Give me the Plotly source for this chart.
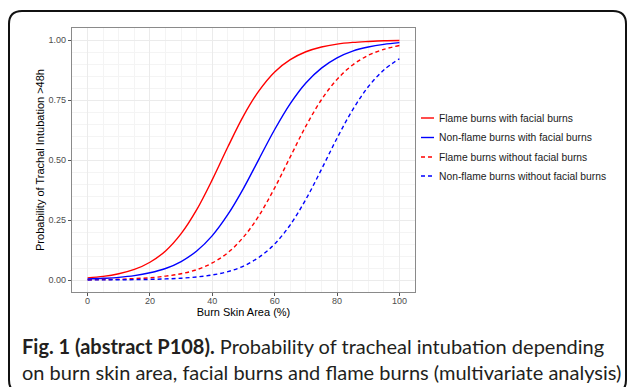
import plotly.graph_objects as go

# ---- data ----
burn_area = [0, 5, 10, 15, 20, 25, 30, 35, 40, 45, 50, 55, 60, 65, 70, 75, 80, 85, 90, 95, 100]

flame_facial = [0.009, 0.015, 0.026, 0.044, 0.074, 0.121, 0.193, 0.293, 0.418, 0.555, 0.684,
                0.789, 0.867, 0.918, 0.951, 0.971, 0.983, 0.990, 0.994, 0.997, 0.998]
nonflame_facial = [0.004, 0.007, 0.011, 0.018, 0.030, 0.048, 0.077, 0.121, 0.185, 0.273, 0.382,
                   0.505, 0.627, 0.735, 0.821, 0.883, 0.926, 0.954, 0.971, 0.982, 0.989]
flame_nofacial = [0.001, 0.002, 0.003, 0.006, 0.009, 0.016, 0.026, 0.043, 0.071, 0.114, 0.179,
                  0.269, 0.384, 0.513, 0.641, 0.751, 0.836, 0.896, 0.936, 0.961, 0.977]
nonflame_nofacial = [0.0003, 0.0006, 0.0009, 0.0016, 0.0026, 0.0045, 0.0075, 0.0127, 0.021, 0.035,
                     0.058, 0.095, 0.150, 0.230, 0.336, 0.461, 0.591, 0.709, 0.805, 0.875, 0.922]

series_names = ["Flame burns with facial burns", "Non-flame burns with facial burns",
                "Flame burns without facial burns", "Non-flame burns without facial burns"]
series_values = [flame_facial, nonflame_facial, flame_nofacial, nonflame_nofacial]
series_colors = ["#FF0000", "#0000FF", "#FF0000", "#0000FF"]
series_dash = ["solid", "solid", "4px,3px", "4px,3px"]

x_ticks = [0, 20, 40, 60, 80, 100]
y_ticks = [0.0, 0.25, 0.5, 0.75, 1.0]
y_ticklabels = ["0.00", "0.25", "0.50", "0.75", "1.00"]

x_title = "Burn Skin Area (%)"
y_title = "Probability of Trachal Intubation >48h"
caption = ("<b>Fig. 1 (abstract P108).</b> Probability of tracheal intubation depending<br>"
           "on burn skin area, facial burns and flame burns (multivariate analysis)")

# ---- layout geometry ----
W, H = 627, 387
ML, MR, MT, MB = 72, 212, 28, 95
PW, PH = W - ML - MR, H - MT - MB


def fx(px):
    return (px - ML) / PW


def fy(py):
    return (H - MB - py) / PH


fig = go.Figure()
for name, vals, col, dash in zip(series_names, series_values, series_colors, series_dash):
    fig.add_trace(go.Scatter(x=burn_area, y=vals, mode="lines", name=name,
                             line=dict(color=col, width=1.4, dash=dash, shape="spline"),
                             showlegend=False))

axis_common = dict(showgrid=True, gridcolor="#EBEBEB", gridwidth=1,
                   minor=dict(showgrid=True, gridcolor="#F4F4F4", gridwidth=0.6),
                   zeroline=False, showline=True, linecolor="#8A8A8A", linewidth=1.3, mirror=True,
                   ticks="outside", ticklen=3, tickcolor="#555555", tickwidth=1,
                   tickfont=dict(family="Liberation Sans, Arial", size=9, color="#4D4D4D"))

fig.update_xaxes(range=[-5, 105], tickvals=x_ticks, ticklabelstandoff=-3,
                 title=dict(text=x_title, standoff=3,
                            font=dict(family="Liberation Sans, Arial", size=11, color="#000000")),
                 **axis_common)
fig.update_yaxes(range=[-0.05, 1.05], tickvals=y_ticks, ticktext=y_ticklabels,
                 title=dict(text=y_title, standoff=1,
                            font=dict(family="Liberation Sans, Arial", size=11, color="#000000")),
                 **axis_common)

# ---- manual legend ----
shapes = []
annotations = []
legend_y = [118, 137.5, 157, 176]
for name, col, dash, ly in zip(series_names, series_colors, series_dash, legend_y):
    shapes.append(dict(type="line", xref="paper", yref="paper",
                       x0=fx(421), x1=fx(434), y0=fy(ly), y1=fy(ly),
                       line=dict(color=col, width=1.4, dash=dash)))
    annotations.append(dict(text=name, xref="paper", yref="paper", x=fx(437), y=fy(ly),
                            xanchor="left", yanchor="middle", showarrow=False,
                            font=dict(family="Liberation Sans, Arial", size=10.3, color="#1A1A1A")))

# ---- rounded outer frame ----
x0, y0, x1, y1, r = 9, 11, 626, 393, 13
path = (f"M{fx(x0 + r)},{fy(y0)} L{fx(x1 - r)},{fy(y0)} Q{fx(x1)},{fy(y0)} {fx(x1)},{fy(y0 + r)} "
        f"L{fx(x1)},{fy(y1 - r)} Q{fx(x1)},{fy(y1)} {fx(x1 - r)},{fy(y1)} "
        f"L{fx(x0 + r)},{fy(y1)} Q{fx(x0)},{fy(y1)} {fx(x0)},{fy(y1 - r)} "
        f"L{fx(x0)},{fy(y0 + r)} Q{fx(x0)},{fy(y0)} {fx(x0 + r)},{fy(y0)} Z")
shapes.append(dict(type="path", xref="paper", yref="paper", path=path,
                   line=dict(color="#111111", width=2)))

# ---- caption ----
annotations.append(dict(text=caption, xref="paper", yref="paper", x=fx(20), y=fy(332),
                        xanchor="left", yanchor="top", align="left", showarrow=False,
                        font=dict(family="Lato, Open Sans", size=20.0, color="#231F20")))

fig.update_layout(width=W, height=H, margin=dict(l=ML, r=MR, t=MT, b=MB),
                  paper_bgcolor="white", plot_bgcolor="white",
                  shapes=shapes, annotations=annotations, showlegend=False)

fig.write_html("out.html", config={"displayModeBar": False},
               post_script="document.body.style.margin='0';document.body.style.overflow='hidden';")
